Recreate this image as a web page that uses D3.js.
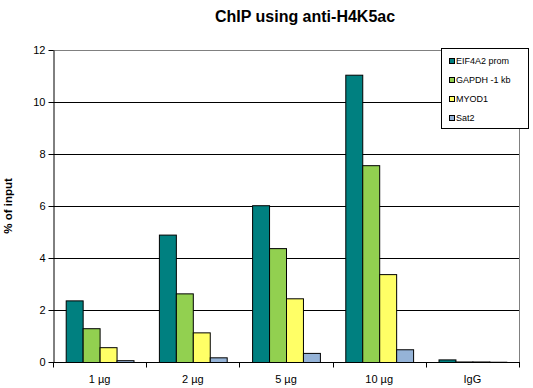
<!DOCTYPE html>
<html><head><meta charset="utf-8">
<script src="https://cdn.jsdelivr.net/npm/d3@7"></script>
<style>body{margin:0;background:#fff}svg{display:block;font-family:Arial,"Liberation Sans",sans-serif}</style>
</head><body><svg id="c" width="533" height="388"></svg>
<script>
const categories = ["1 µg", "2 µg", "5 µg", "10 µg", "IgG"];
const seriesNames = ["EIF4A2 prom", "GAPDH -1 kb", "MYOD1", "Sat2"];
const EIF4A2 = [2.37, 4.9, 6.03, 11.05, 0.1];
const GAPDH = [1.3, 2.64, 4.38, 7.57, 0.02];
const MYOD1 = [0.57, 1.14, 2.45, 3.38, 0.02];
const Sat2 = [0.07, 0.18, 0.35, 0.49, 0.01];
const yTicks = [0, 2, 4, 6, 8, 10, 12];
const colors = ["#008080", "#92D050", "#FFFF66", "#95B3D7"];

const series = [EIF4A2, GAPDH, MYOD1, Sat2];
const svg = d3.select("#c");
const L = 53, R = 519, T = 50, B = 362;
const x = d3.scaleBand().domain(categories).range([L, R]).padding(0);
const xi = d3.scaleBand().domain(seriesNames).range([12.7, x.bandwidth() - 12.7]).padding(0);
const y = d3.scaleLinear().domain([0, 12]).range([B, T]);

// gridlines
svg.append("g").selectAll("line").data(yTicks.filter(d => d > 0 && d < 12)).join("line")
  .attr("x1", L).attr("x2", R).attr("y1", d => y(d) + 0.5).attr("y2", d => y(d) + 0.5)
  .attr("stroke", "#000").attr("stroke-width", 1);
// top and right border
svg.append("path").attr("d", `M${L},${T + 0.5}H${R + 0.5}V${B}`).attr("fill", "none").attr("stroke", "#808080");

// bars
const g = svg.append("g");
categories.forEach((c, ci) => {
  series.forEach((s, si) => {
    const v = s[ci];
    g.append("rect")
      .attr("x", x(c) + xi(seriesNames[si]) + 0.5)
      .attr("y", y(v) + 0.5)
      .attr("width", xi.bandwidth())
      .attr("height", Math.max(0, y(0) - y(v)))
      .attr("fill", colors[si]).attr("stroke", "#000").attr("stroke-width", 1);
  });
});

// y axis
const ya = svg.append("g").attr("transform", `translate(${L + 0.5},0)`)
  .call(d3.axisLeft(y).tickValues(yTicks).tickSize(5).tickSizeOuter(0).tickFormat(d3.format("d")));
ya.select(".domain").attr("stroke", "#000");
ya.selectAll(".tick line").attr("stroke", "#000");
ya.selectAll("text").attr("font-size", 11).attr("fill", "#000").attr("font-family", "Arial, 'Liberation Sans', sans-serif").attr("x", -8);

// x axis
const xa = svg.append("g").attr("transform", `translate(0,${B + 0.5})`);
xa.append("line").attr("x1", L).attr("x2", R + 1).attr("y1", 0).attr("y2", 0).attr("stroke", "#000");
const bounds = categories.map(c => x(c)).concat([R]);
xa.selectAll("line.tk").data(bounds).join("line").attr("class", "tk")
  .attr("x1", d => Math.round(d) + 0.5).attr("x2", d => Math.round(d) + 0.5).attr("y1", 0).attr("y2", 5).attr("stroke", "#000");
xa.selectAll("text").data(categories).join("text")
  .attr("x", d => x(d) + x.bandwidth() / 2).attr("y", 20)
  .attr("text-anchor", "middle").attr("font-size", 11).attr("fill", "#000").text(d => d);

// title
svg.append("text").attr("x", 305).attr("y", 22).attr("text-anchor", "middle")
  .attr("font-size", 16).attr("font-weight", "bold").text("ChIP using anti-H4K5ac");
// y label
svg.append("text").attr("transform", "translate(12,206) rotate(-90)").attr("text-anchor", "middle")
  .attr("font-size", 11.5).attr("font-weight", "bold").text("% of input");

// legend
const lg = svg.append("g");
lg.append("rect").attr("x", 441.5).attr("y", 48.5).attr("width", 87).attr("height", 80)
  .attr("fill", "#fff").attr("stroke", "#000");
const ly = [61, 80, 99, 118];
seriesNames.forEach((n, i) => {
  lg.append("rect").attr("x", 449.5).attr("y", ly[i] - 2.5).attr("width", 5).attr("height", 5)
    .attr("fill", colors[i]).attr("stroke", "#000").attr("stroke-width", 1);
  lg.append("text").attr("x", 456).attr("y", ly[i] + 3).attr("font-size", 9).text(n);
});
</script></body></html>
